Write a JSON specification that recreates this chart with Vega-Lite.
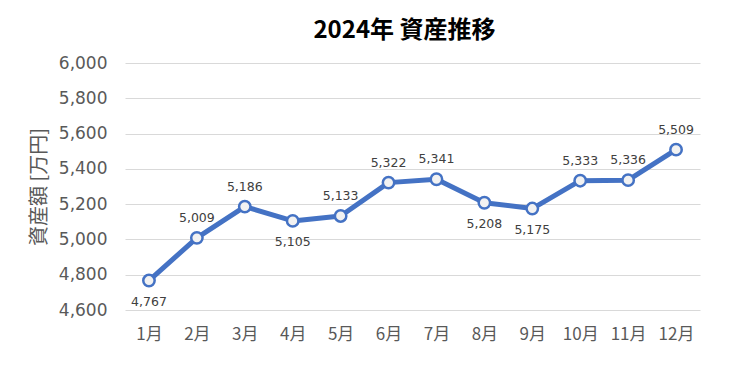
{
  "$schema": "https://vega.github.io/schema/vega-lite/v6.json",
  "width": 575,
  "height": 247,
  "autosize": "none",
  "padding": {"left": 125, "top": 63, "right": 31, "bottom": 70},
  "background": "white",
  "config": {
    "view": {"stroke": null},
    "font": "Noto Sans CJK JP"
  },
  "title": {
    "text": "2024年 資産推移",
    "fontSize": 24,
    "fontWeight": "bold",
    "color": "#000000",
    "font": "Noto Sans CJK JP",
    "offset": 11,
    "dx": -8,
    "anchor": "middle"
  },
  "data": {
    "values": [
      {"month": "1月", "value": 4767},
      {"month": "2月", "value": 5009},
      {"month": "3月", "value": 5186},
      {"month": "4月", "value": 5105},
      {"month": "5月", "value": 5133},
      {"month": "6月", "value": 5322},
      {"month": "7月", "value": 5341},
      {"month": "8月", "value": 5208},
      {"month": "9月", "value": 5175},
      {"month": "10月", "value": 5333},
      {"month": "11月", "value": 5336},
      {"month": "12月", "value": 5509}
    ]
  },
  "encoding": {
    "x": {
      "field": "month",
      "type": "ordinal",
      "sort": null,
      "scale": {"paddingInner": 0, "paddingOuter": 0.5},
      "axis": {
        "title": null,
        "labelAngle": 0,
        "labelFontSize": 17,
        "labelColor": "#595959",
        "labelFont": "Noto Sans CJK JP",
        "labelPadding": 16,
        "ticks": false,
        "domain": false,
        "grid": false
      }
    },
    "y": {
      "field": "value",
      "type": "quantitative",
      "scale": {"domain": [4600, 6000], "nice": false, "zero": false},
      "axis": {
        "title": "資産額 [万円]",
        "titleFontSize": 20,
        "titleFontWeight": "normal",
        "titleColor": "#595959",
        "titleFont": "Noto Sans CJK JP",
        "titlePadding": 9,
        "values": [4600, 4800, 5000, 5200, 5400, 5600, 5800, 6000],
        "format": ",.0f",
        "labelFontSize": 17,
        "labelColor": "#595959",
        "labelFont": "DejaVu Sans",
        "labelPadding": 18,
        "ticks": false,
        "domain": false,
        "grid": true,
        "gridColor": "#D9D9D9",
        "gridWidth": 1
      }
    }
  },
  "layer": [
    {
      "mark": {"type": "line", "color": "#4472C4", "strokeWidth": 5, "strokeJoin": "round"}
    },
    {
      "mark": {"type": "point", "filled": true, "fill": "#F2F2F2", "stroke": "#4472C4", "strokeWidth": 2.5, "size": 130, "opacity": 1}
    },
    {
      "transform": [{"filter": {"field": "month", "oneOf": ["2月", "3月", "5月", "6月", "7月", "10月", "11月", "12月"]}}],
      "mark": {"type": "text", "dy": -20, "fontSize": 12.5, "font": "DejaVu Sans", "color": "#404040"},
      "encoding": {"text": {"field": "value", "type": "quantitative", "format": ",.0f"}}
    },
    {
      "transform": [{"filter": {"field": "month", "oneOf": ["1月", "4月", "8月", "9月"]}}],
      "mark": {"type": "text", "dy": 21, "fontSize": 12.5, "font": "DejaVu Sans", "color": "#404040"},
      "encoding": {"text": {"field": "value", "type": "quantitative", "format": ",.0f"}}
    }
  ]
}
